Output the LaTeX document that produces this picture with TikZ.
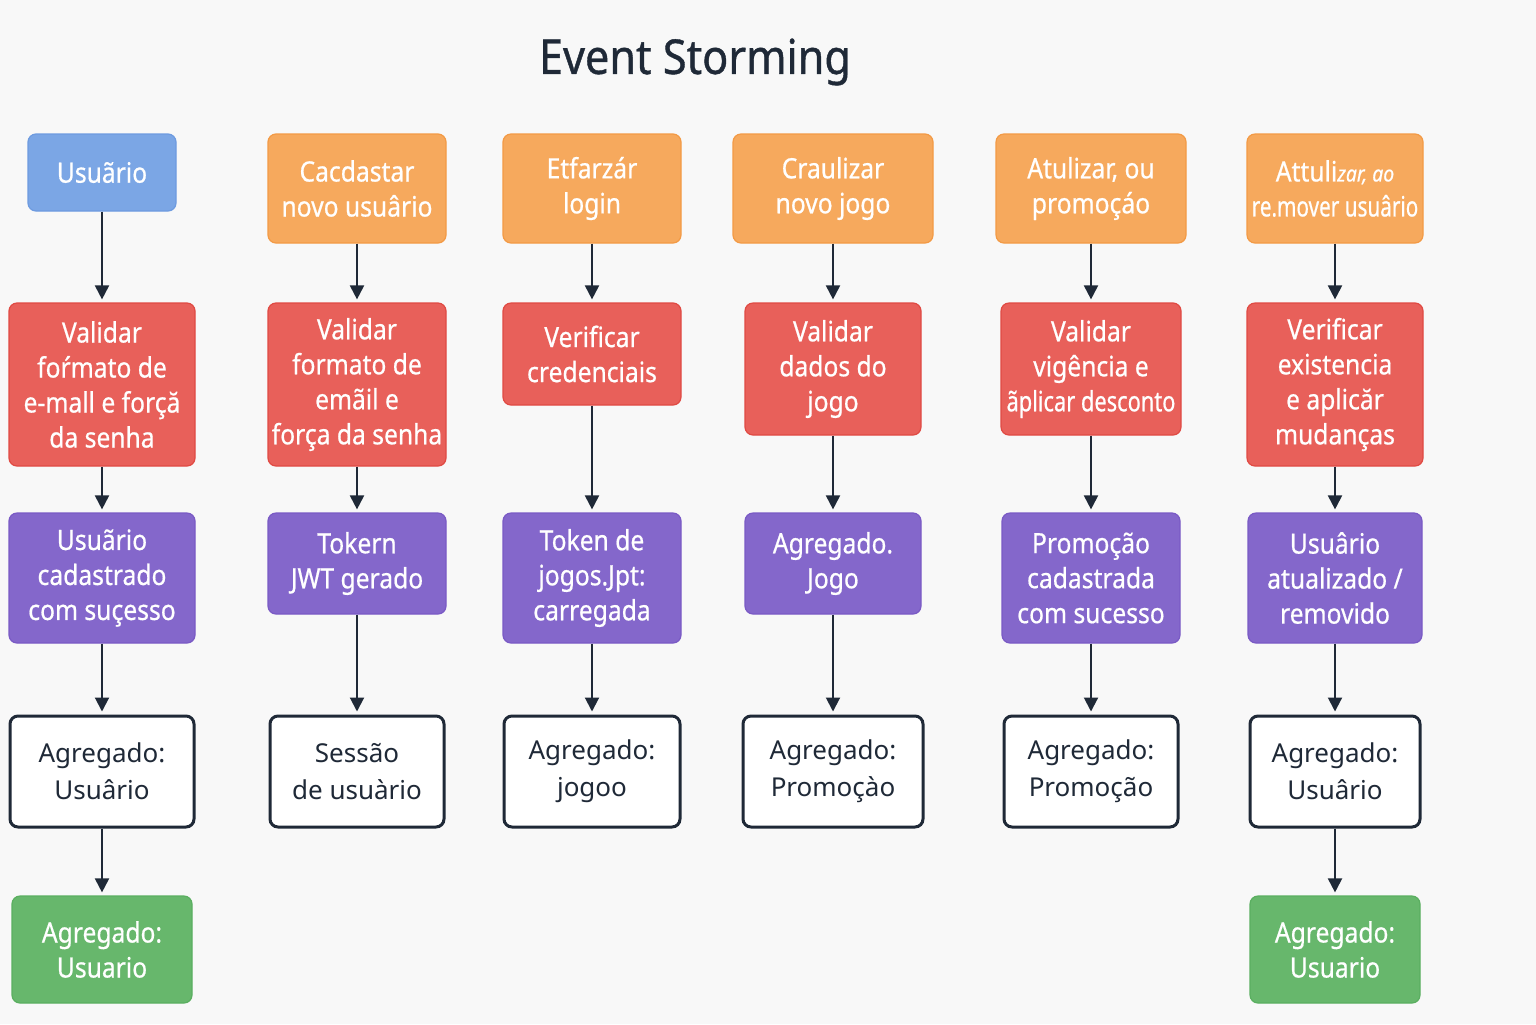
\documentclass[tikz,border=0pt]{standalone}
\usepackage{fontspec}
\setmainfont{Noto Sans}
\newfontfamily\condfont{Noto Sans}[FakeStretch=0.88,FakeBold=0.6]
\newfontfamily\titlefont{Noto Sans}[FakeStretch=0.9,FakeBold=0.8]
\usetikzlibrary{arrows.meta}
\definecolor{bgc}{HTML}{F8F8F8}
\definecolor{bluef}{HTML}{7BA6E5}
\definecolor{blued}{HTML}{6E9BE0}
\definecolor{orgf}{HTML}{F6A95D}
\definecolor{orgd}{HTML}{F39A45}
\definecolor{redf}{HTML}{E8605A}
\definecolor{redd}{HTML}{E04A43}
\definecolor{purf}{HTML}{8467CB}
\definecolor{purd}{HTML}{7A5AC5}
\definecolor{grnf}{HTML}{67B76C}
\definecolor{grnd}{HTML}{5AAF60}
\definecolor{ink}{HTML}{1F2937}
\newcommand{\mkbox}[7]{\node[#1, minimum width={(#5-#3)*0.5pt}, minimum height={(#6-#4)*0.5pt}] (#2) at ({(#3+#5)/2},{(#4+#6)/2}) {#7};}
\begin{document}
\begin{tikzpicture}[x=0.5pt,y=-0.5pt,
  box/.style={rounded corners=4pt, align=center, inner sep=0pt, line width=0.6pt},
  evt/.style={box, text=white, font=\condfont\fontsize{14}{17.5}\selectfont},
  actor/.style={evt, fill=bluef, draw=blued},
  cmd/.style={evt, fill=orgf, draw=orgd},
  pol/.style={evt, fill=redf, draw=redd},
  dom/.style={evt, fill=purf, draw=purd},
  agg/.style={box, fill=white, draw=ink, line width=1.5pt, text=ink, font=\fontsize{13}{18.5}\selectfont},
  res/.style={evt, fill=grnf, draw=grnd},
  arr/.style={draw=ink, line width=1pt, -{Triangle[width=7pt,length=7pt]}, shorten >=1.5pt}]
\fill[bgc] (0,0) rectangle (1536,1024);
\useasboundingbox (0,0) rectangle (1536,1024);
\node[font=\titlefont\fontsize{24}{28}\selectfont, text=ink] (title) at (695,62) {Event Storming};
% column 1
\mkbox{actor}{a1}{28}{134}{176}{211}{Usuãrio}
\mkbox{pol}{b1}{9}{303}{195}{466}{Validar\\foŕmato de\\e-mall e forçă\\da senha}
\mkbox{dom}{c1}{9}{513}{195}{643}{Usuãrio\\cadastrado\\com suçesso}
\mkbox{agg}{d1}{10}{716}{194}{827}{Agregado:\\Usuârio}
\mkbox{res}{e1}{12}{896}{192}{1003}{Agregado:\\Usuario}
% column 2
\mkbox{cmd}{a2}{268}{134}{446}{243}{Cacdastar\\novo usuârio}
\mkbox{pol}{b2}{268}{303}{446}{466}{Validar\\formato de\\emãil e\\força da senha}
\mkbox{dom}{c2}{268}{513}{446}{614}{Tokern\\JWT gerado}
\mkbox{agg}{d2}{270}{716}{444}{827}{Sessão\\de usuàrio}
% column 3
\mkbox{cmd}{a3}{503}{134}{681}{243}{Etfarzár\\login}
\mkbox{pol}{b3}{503}{303}{681}{405}{Verificar\\credenciais}
\mkbox{dom}{c3}{503}{513}{681}{643}{Token de\\jogos.Jpt:\\carregada}
\mkbox{agg}{d3}{504}{716}{680}{827}{Agregado:\\jogoo}
% column 4
\mkbox{cmd}{a4}{733}{134}{933}{243}{Craulizar\\novo jogo}
\mkbox{pol}{b4}{745}{303}{921}{435}{Validar\\dados do\\jogo}
\mkbox{dom}{c4}{745}{513}{921}{614}{Agregado.\\Jogo}
\mkbox{agg}{d4}{743}{716}{923}{827}{Agregado:\\Promoçào}
% column 5
\mkbox{cmd}{a5}{996}{134}{1186}{243}{Atulizar, ou\\promoçáo}
\mkbox{pol}{b5}{1001}{303}{1181}{435}{Validar\\vigência e\\{\addfontfeature{FakeStretch=0.78}ãplicar desconto}}
\mkbox{dom}{c5}{1002}{513}{1180}{643}{Promoção\\cadastrada\\com sucesso}
\mkbox{agg}{d5}{1004}{716}{1178}{827}{Agregado:\\Promoção}
% column 6
\mkbox{cmd}{a6}{1247}{134}{1423}{243}{Attuli{\itshape\fontsize{11}{17.5}\selectfont zar, ao}\\{\addfontfeature{FakeStretch=0.74}re.mover usuârio}}
\mkbox{pol}{b6}{1247}{303}{1423}{466}{Verificar\\existencia\\e aplicăr\\mudanças}
\mkbox{dom}{c6}{1248}{513}{1422}{643}{Usuârio\\atualizado /\\removido}
\mkbox{agg}{d6}{1250}{716}{1420}{827}{Agregado:\\Usuârio}
\mkbox{res}{e6}{1250}{896}{1420}{1003}{Agregado:\\Usuario}
% arrows
\foreach \c in {1,...,6}{
  \draw[arr] (a\c) -- (b\c);
  \draw[arr] (b\c) -- (c\c);
  \draw[arr] (c\c) -- (d\c);
}
\draw[arr] (d1) -- (e1);
\draw[arr] (d6) -- (e6);
\end{tikzpicture}
\end{document}
